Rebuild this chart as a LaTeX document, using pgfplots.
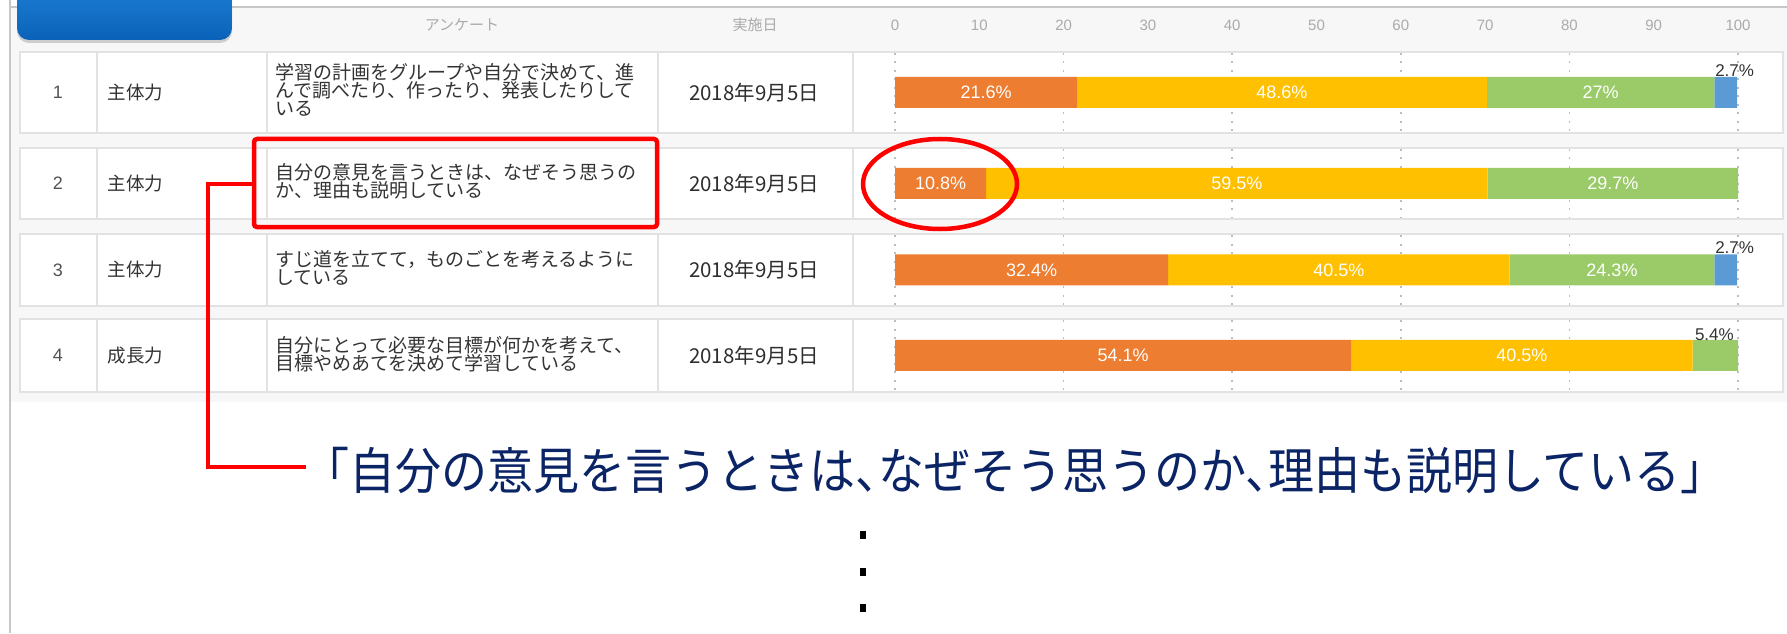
\documentclass[border=0pt]{standalone}
\usepackage{pgfplots}
\pgfplotsset{compat=1.18}
\usepackage{fontspec}
\setmainfont{Liberation Sans}
\newfontfamily\jp{Noto Sans CJK JP}
\newfontfamily\jpbig[FakeStretch=0.92,RawFeature=+halt]{Noto Sans CJK JP}
\usetikzlibrary{shadows}
\definecolor{c1}{HTML}{ED7D31}
\definecolor{c2}{HTML}{FFC000}
\definecolor{c3}{HTML}{9BCB69}
\definecolor{c4}{HTML}{5B9BD5}
\definecolor{navy}{HTML}{0B2466}
\definecolor{rowline}{HTML}{E2E2E2}
\definecolor{panel}{HTML}{F7F7F7}
\definecolor{tickgray}{HTML}{AAAAAA}
\definecolor{gridc}{HTML}{BDBDBD}
\definecolor{txt}{HTML}{333333}
\definecolor{redc}{HTML}{FF0000}
\definecolor{tabtop}{HTML}{2185DA}
\definecolor{tabbot}{HTML}{0A62B8}
\pgfplotsset{common/.style={scale only axis, width=843pt, height=608pt,
  xmin=0, xmax=100, ymin=0, ymax=608, at={(895pt,0pt)}, anchor=south west, clip=false}}
\begin{document}
\begin{tikzpicture}[x=1pt,y=1pt]
\useasboundingbox (0,0) rectangle (1787,633);
\fill[white] (0,0) rectangle (1787,633);
% panel
\fill[panel] (11,626) rectangle (1787,231);
\draw[line width=2pt, color=black!22] (10,626) -- (1787,626);
\draw[line width=2pt, color=black!22] (10,633) -- (10,0);
% blue tab
\shade[top color=tabtop, bottom color=tabbot, rounded corners=12pt,
  drop shadow={opacity=0.35, shadow xshift=0pt, shadow yshift=-3pt}]
  (17,660) rectangle (232,593);
% header
\node[text=tickgray, font=\jp\fontsize{15}{15}\selectfont] at (462,608) {アンケート};
\node[text=tickgray, font=\jp\fontsize{15}{15}\selectfont] at (755,608) {実施日};
% row boxes
\foreach \t/\b in {52/133,148/219,234/306,319/392}{
  \filldraw[fill=white, draw=rowline, line width=1.2pt] (20,633-\t) rectangle (1783,633-\b);
  \foreach \cx in {97,267,658,853}{
    \draw[rowline, line width=1.2pt] (\cx,633-\t) -- (\cx,633-\b);
  }
}
% row contents
\tikzset{num/.style={text=txt!85, font=\fontsize{18}{18}\selectfont},
  cat/.style={anchor=west, text=txt, font=\jp\fontsize{18.5}{18.5}\selectfont},
  q/.style={anchor=west, text=txt, align=left, font=\jp\fontsize{19}{18}\selectfont},
  dt/.style={text=txt!90!black, font=\jp\fontsize{20.5}{20.5}\selectfont}}
\node[num] at (58,633-92.5) {1};
\node[num] at (58,633-183.5) {2};
\node[num] at (58,633-270) {3};
\node[num] at (58,633-355.5) {4};
\node[cat] at (104,633-92.5) {主体力};
\node[cat] at (104,633-183.5) {主体力};
\node[cat] at (104,633-270) {主体力};
\node[cat] at (104,633-355.5) {成長力};
\node[q] at (272,633-90) {学習の計画をグループや自分で決めて、進\\んで調べたり、作ったり、発表したりして\\いる};
\node[q] at (272,633-181.5) {自分の意見を言うときは、なぜそう思うの\\か、理由も説明している};
\node[q] at (272,633-268) {すじ道を立てて，ものごとを考えるように\\している};
\node[q] at (272,633-354) {自分にとって必要な目標が何かを考えて、\\目標やめあてを決めて学習している};
\node[dt] at (754,633-92.5) {2018年9月5日};
\node[dt] at (754,633-183.5) {2018年9月5日};
\node[dt] at (754,633-270) {2018年9月5日};
\node[dt] at (754,633-355.5) {2018年9月5日};
% axis A: tick labels and dotted grid
\begin{axis}[common, axis line style={draw=none}, major tick length=0pt,
  xtick={0,10,...,100}, ytick=\empty, xticklabel pos=upper,
  /pgf/number format/assume math mode=true,
  xticklabel style={anchor=center, text=tickgray, font=\fontsize{15}{15}\selectfont},
  unbounded coords=jump]
\pgfplotsinvokeforeach{0,20,40,60,80,100}{
  \addplot[gridc, line width=1.6pt, dash pattern=on 2pt off 6.5pt] coordinates
   {(#1,580) (#1,501) (#1,nan) (#1,484) (#1,415) (#1,nan) (#1,398) (#1,328) (#1,nan) (#1,313) (#1,242)};
}
\end{axis}
% axis B: stacked bars
\begin{axis}[common, hide axis, xbar stacked, bar width=31pt]
\addplot[fill=c1, draw=none] coordinates {(21.6,540.5) (10.8,449.5) (32.4,363) (54.1,277.5)};
\addplot[fill=c2, draw=none] coordinates {(48.6,540.5) (59.5,449.5) (40.5,363) (40.5,277.5)};
\addplot[fill=c3, draw=none] coordinates {(27,540.5) (29.7,449.5) (24.3,363) (5.4,277.5)};
\addplot[fill=c4, draw=none] coordinates {(2.7,540.5) (0,449.5) (2.7,363) (0,277.5)};
\end{axis}
% axis C: value labels
\begin{axis}[common, hide axis]
\addplot[only marks, mark=text, text mark={},
  point meta=explicit symbolic, nodes near coords={\pgfplotspointmeta\%},
  nodes near coords style={anchor=center, text=white, font=\fontsize{18}{18}\selectfont}]
  table[meta=lab] {
x y lab
10.8 540.5 21.6
45.9 540.5 48.6
83.7 540.5 27
5.4 449.5 10.8
40.55 449.5 59.5
85.15 449.5 29.7
16.2 363 32.4
52.65 363 40.5
85.05 363 24.3
27.05 277.5 54.1
74.35 277.5 40.5
};
\addplot[only marks, mark=text, text mark={},
  point meta=explicit symbolic, nodes near coords={\pgfplotspointmeta\%},
  nodes near coords style={anchor=center, text=txt, font=\fontsize{17}{17}\selectfont}]
  table[meta=lab] {
x y lab
99.6 562 2.7
99.6 385 2.7
97.2 298 5.4
};
\end{axis}
% red annotations
\draw[redc, line width=4.5pt, rounded corners=3pt] (254,633-139) rectangle (657,633-227);
\draw[redc, line width=4.5pt] (254,633-184) -- (208,633-184) -- (208,633-467) -- (306,633-467);
\draw[redc, line width=4.5pt] (940,633-184) ellipse [x radius=77, y radius=45];
% callout text
\node[anchor=base west, inner sep=0pt, text=navy, font=\jpbig\fontsize{50}{50}\selectfont]
  at (326,633-489) {「自分の意見を言うときは、なぜそう思うのか、理由も説明している」};
\foreach \yy in {535,572,608}{
  \fill[black] (860,633-\yy+4) rectangle (866,633-\yy-4);
}
\end{tikzpicture}
\end{document}
